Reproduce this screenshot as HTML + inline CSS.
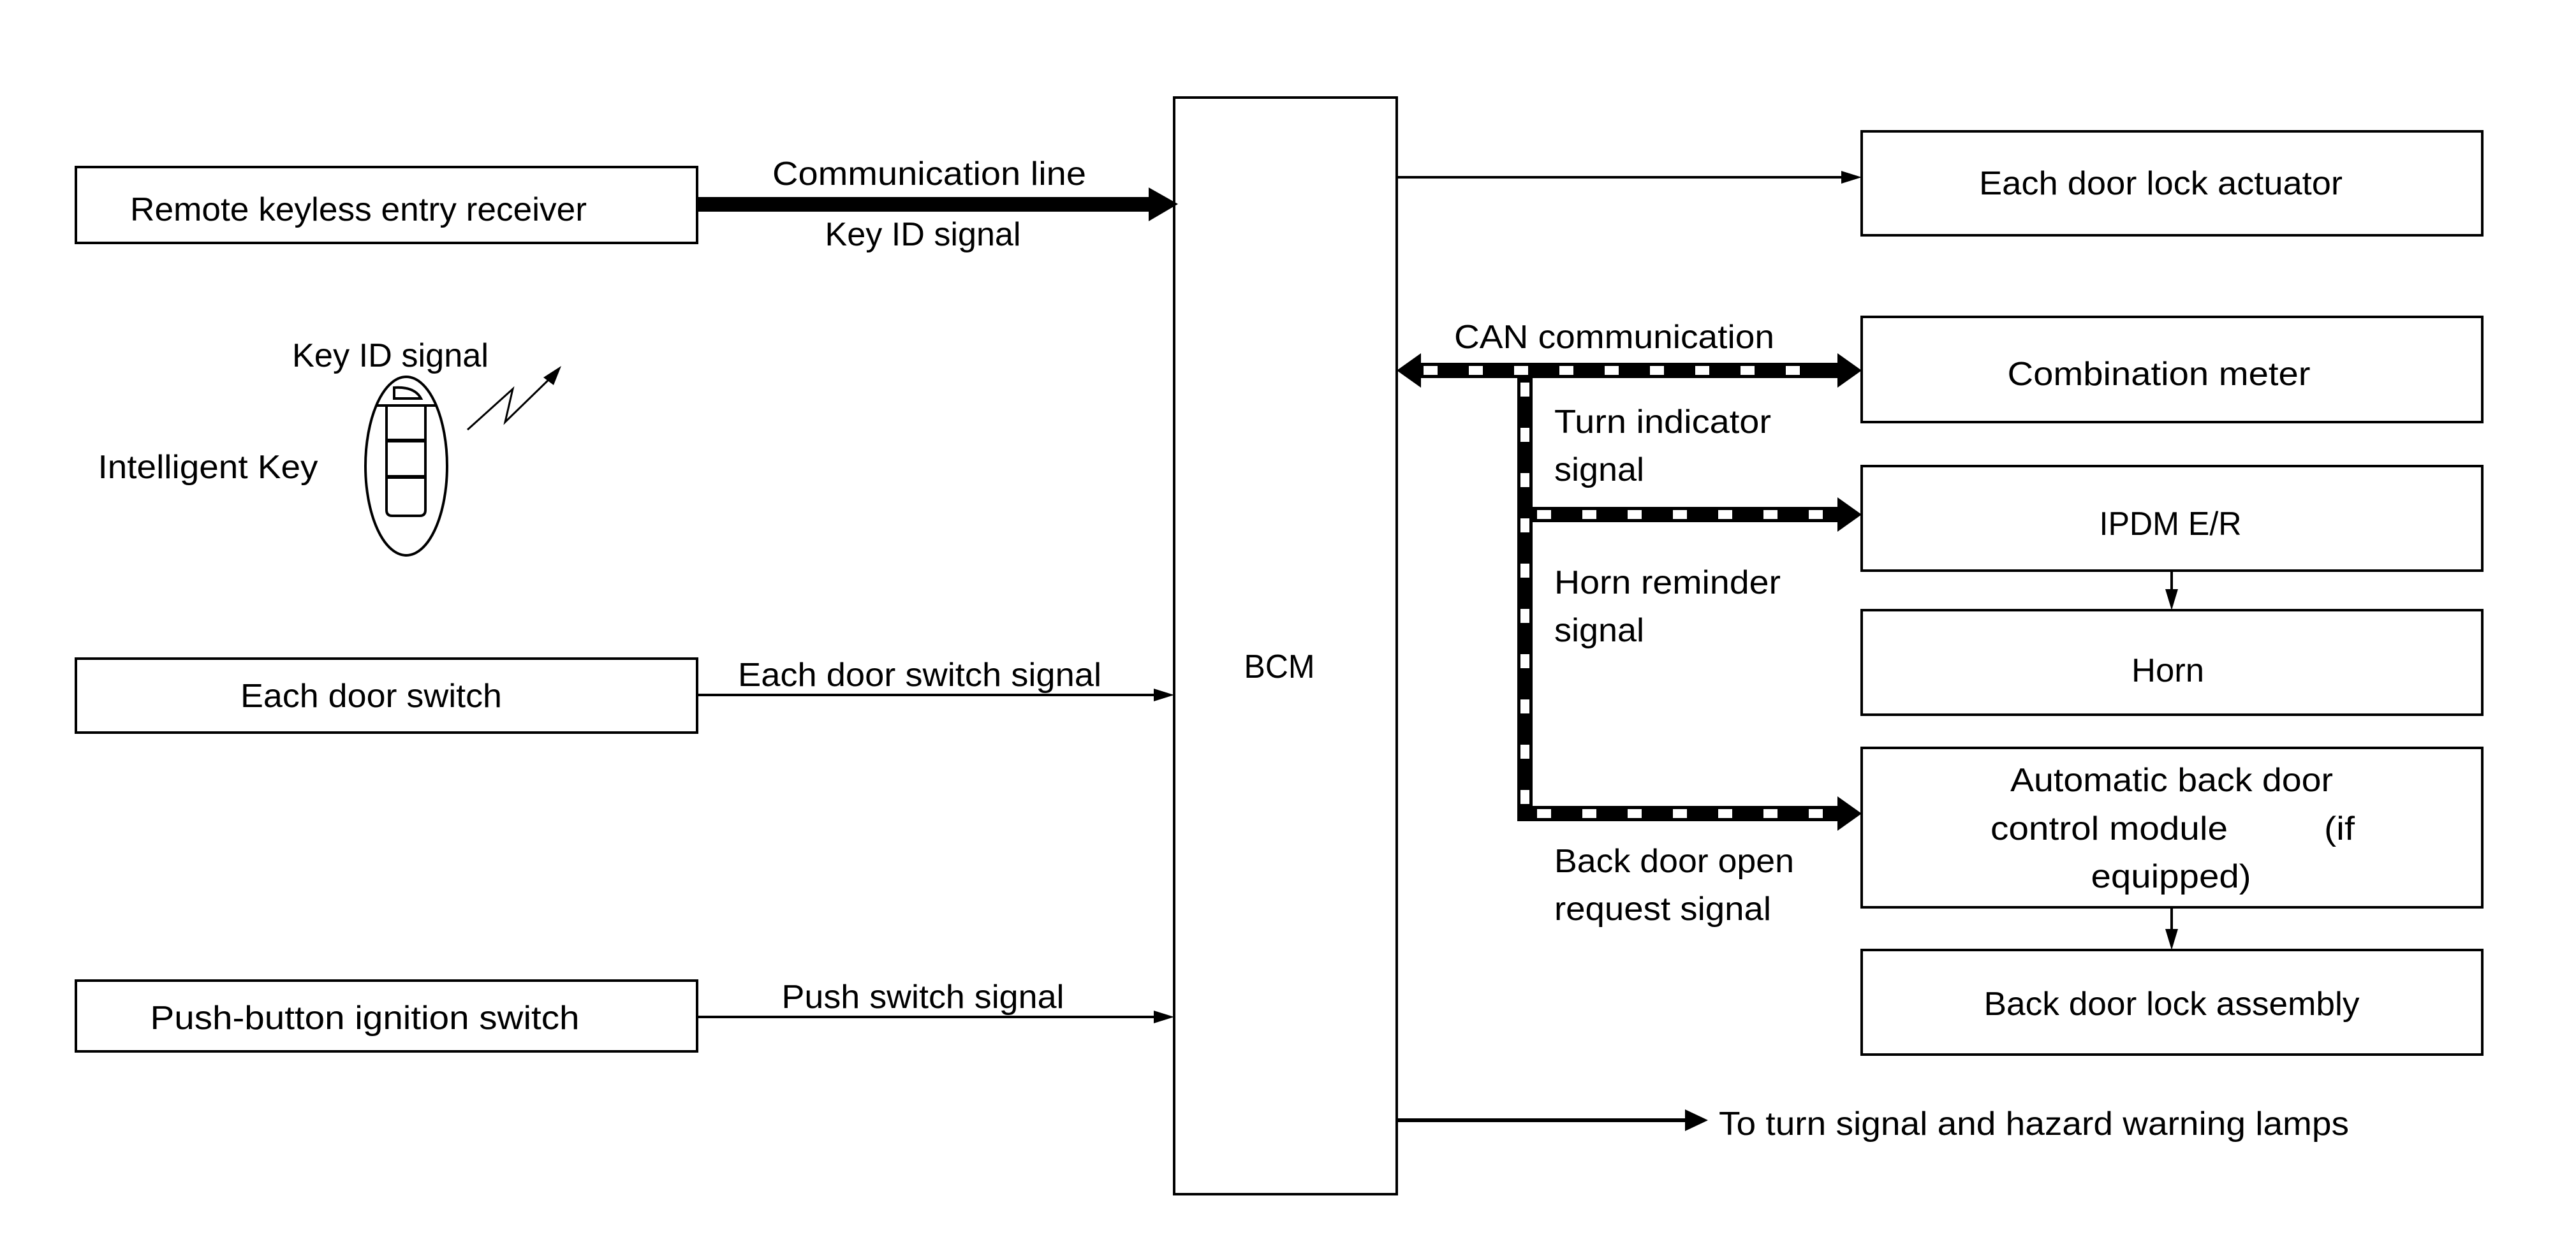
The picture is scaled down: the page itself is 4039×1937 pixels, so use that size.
<!DOCTYPE html>
<html><head><meta charset="utf-8"><style>html,body{margin:0;padding:0;background:#fff}svg{display:block}text{font-family:"Liberation Sans",sans-serif;font-size:52px;fill:#000}</style></head><body>
<svg width="4039" height="1937" viewBox="0 0 4039 1937" xmlns="http://www.w3.org/2000/svg">
<g fill="none" stroke="#000" stroke-width="4">
<rect x="119" y="262" width="974" height="119"/>
<rect x="119" y="1033" width="974" height="116"/>
<rect x="119" y="1538" width="974" height="111"/>
<rect x="1841" y="153" width="349" height="1720"/>
<rect x="2919" y="206" width="973" height="163"/>
<rect x="2919" y="497" width="973" height="165"/>
<rect x="2919" y="731" width="973" height="164"/>
<rect x="2919" y="957" width="973" height="164"/>
<rect x="2919" y="1173" width="973" height="250"/>
<rect x="2919" y="1490" width="973" height="164"/>
</g>
<g stroke="#000" stroke-width="4">
<line x1="1093" y1="1090" x2="1815" y2="1090"/>
<line x1="1093" y1="1595" x2="1815" y2="1595"/>
<line x1="2190" y1="278" x2="2893" y2="278"/>
<line x1="2190" y1="1757" x2="2650" y2="1757" stroke-width="6"/>
<line x1="3405" y1="895" x2="3405" y2="930"/>
<line x1="3405" y1="1423" x2="3405" y2="1462"/>
</g>
<g fill="#000">
<polygon points="1841,1090 1809,1080 1809,1100"/>
<polygon points="1841,1595 1809,1585 1809,1605"/>
<polygon points="2919,278 2887,268 2887,288"/>
<polygon points="2678,1757 2642,1740 2642,1774"/>
<polygon points="3405,957 3395,924 3415,924"/>
<polygon points="3405,1490 3395,1457 3415,1457"/>
<rect x="1093" y="309" width="712" height="23"/>
<polygon points="1847,320 1801,294 1801,347"/>
</g>
<g fill="none" stroke="#000" stroke-width="24">
<line x1="2222" y1="581" x2="2885" y2="581"/>
<line x1="2391" y1="581" x2="2391" y2="1288"/>
<line x1="2391" y1="807" x2="2885" y2="807"/>
<line x1="2391" y1="1276" x2="2885" y2="1276"/>
</g>
<g fill="none" stroke="#fff" stroke-width="14" stroke-dasharray="22 49">
<line x1="2232" y1="581" x2="2870" y2="581"/>
<line x1="2391" y1="600" x2="2391" y2="1270"/>
<line x1="2410" y1="807" x2="2870" y2="807"/>
<line x1="2410" y1="1276" x2="2870" y2="1276"/>
</g>
<g fill="#000">
<polygon points="2190,581 2228,554 2228,608"/>
<polygon points="2919,581 2881,554 2881,608"/>
<polygon points="2919,807 2881,780 2881,834"/>
<polygon points="2919,1276 2881,1249 2881,1303"/>
</g>
<g fill="none" stroke="#000" stroke-width="4">
<ellipse cx="637" cy="731" rx="64" ry="140"/>
<line x1="590" y1="636" x2="685" y2="636"/>
<path d="M606,636 V800 Q606,809 615,809 H658 Q667,809 667,800 V636"/>
<path d="M618,625 V608 Q650,606 660,625 Z"/>
<line x1="606" y1="691" x2="667" y2="691" stroke-width="6"/>
<line x1="606" y1="748" x2="667" y2="748" stroke-width="6"/>
<polyline points="733,674 804,610 792,662 866,590" stroke-width="3"/>
</g>
<polygon points="880,574 852,592 868,604" fill="#000"/>
<text x="562" y="346" text-anchor="middle" textLength="716" lengthAdjust="spacingAndGlyphs">Remote keyless entry receiver</text>
<text x="1457" y="290" text-anchor="middle" textLength="492" lengthAdjust="spacingAndGlyphs">Communication line</text>
<text x="1447" y="385" text-anchor="middle" textLength="307" lengthAdjust="spacingAndGlyphs">Key ID signal</text>
<text x="612" y="575" text-anchor="middle" textLength="308" lengthAdjust="spacingAndGlyphs">Key ID signal</text>
<text x="326" y="750" text-anchor="middle" textLength="345" lengthAdjust="spacingAndGlyphs">Intelligent Key</text>
<text x="582" y="1109" text-anchor="middle" textLength="410" lengthAdjust="spacingAndGlyphs">Each door switch</text>
<text x="1442" y="1076" text-anchor="middle" textLength="570" lengthAdjust="spacingAndGlyphs">Each door switch signal</text>
<text x="572" y="1614" text-anchor="middle" textLength="673" lengthAdjust="spacingAndGlyphs">Push-button ignition switch</text>
<text x="1447" y="1581" text-anchor="middle" textLength="443" lengthAdjust="spacingAndGlyphs">Push switch signal</text>
<text x="2006" y="1063" text-anchor="middle" textLength="111" lengthAdjust="spacingAndGlyphs">BCM</text>
<text x="3388" y="305" text-anchor="middle" textLength="570" lengthAdjust="spacingAndGlyphs">Each door lock actuator</text>
<text x="2280" y="546" textLength="502" lengthAdjust="spacingAndGlyphs">CAN communication</text>
<text x="3385" y="604" text-anchor="middle" textLength="475" lengthAdjust="spacingAndGlyphs">Combination meter</text>
<text x="2437" y="679" textLength="340" lengthAdjust="spacingAndGlyphs">Turn indicator</text>
<text x="2437" y="754" textLength="141" lengthAdjust="spacingAndGlyphs">signal</text>
<text x="3403" y="839" text-anchor="middle" textLength="223" lengthAdjust="spacingAndGlyphs">IPDM E/R</text>
<text x="2437" y="931" textLength="355" lengthAdjust="spacingAndGlyphs">Horn reminder</text>
<text x="2437" y="1006" textLength="141" lengthAdjust="spacingAndGlyphs">signal</text>
<text x="3399" y="1069" text-anchor="middle" textLength="114" lengthAdjust="spacingAndGlyphs">Horn</text>
<text x="3405" y="1241" text-anchor="middle" textLength="506" lengthAdjust="spacingAndGlyphs">Automatic back door</text>
<text x="3121" y="1317" textLength="372" lengthAdjust="spacingAndGlyphs">control module</text>
<text x="3644" y="1317" textLength="48" lengthAdjust="spacingAndGlyphs">(if</text>
<text x="3404" y="1392" text-anchor="middle" textLength="251" lengthAdjust="spacingAndGlyphs">equipped)</text>
<text x="2437" y="1368" textLength="376" lengthAdjust="spacingAndGlyphs">Back door open</text>
<text x="2437" y="1443" textLength="340" lengthAdjust="spacingAndGlyphs">request signal</text>
<text x="3405" y="1592" text-anchor="middle" textLength="589" lengthAdjust="spacingAndGlyphs">Back door lock assembly</text>
<text x="2695" y="1780" textLength="988" lengthAdjust="spacingAndGlyphs">To turn signal and hazard warning lamps</text>
</svg>
</body></html>
